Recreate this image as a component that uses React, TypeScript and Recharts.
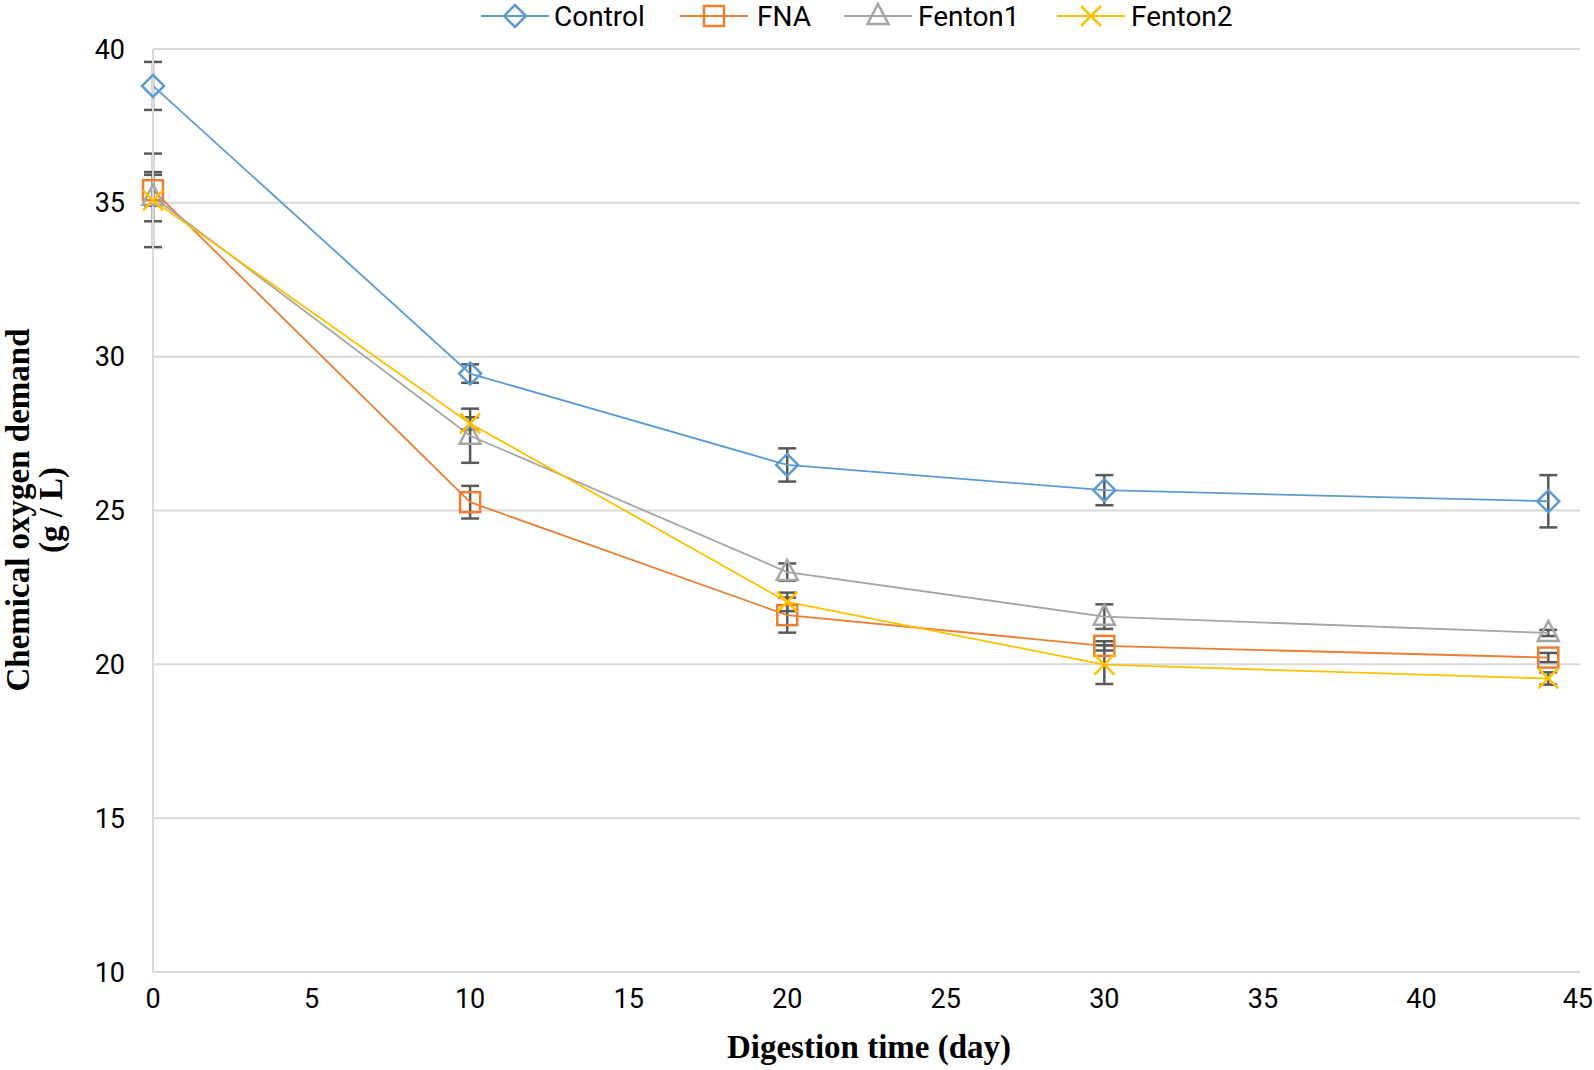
import React from "react";
import { LineChart, Line, XAxis, YAxis, CartesianGrid, ErrorBar } from "recharts";

const days = [0, 10, 20, 30, 44];
const seriesNames = ["Control", "FNA", "Fenton1", "Fenton2"];
const controlValues = [38.8, 29.45, 26.48, 25.66, 25.3];
const controlErrors = [0.78, 0.3, 0.54, 0.49, 0.85];
const fnaValues = [35.41, 25.27, 21.6, 20.6, 20.22];
const fnaErrors = [0.5, 0.53, 0.57, 0.15, 0.15];
const fenton1Values = [35.2, 27.43, 23.0, 21.55, 21.02];
const fenton1Errors = [0.8, 0.88, 0.28, 0.4, 0.1];
const fenton2Values = [35.08, 27.83, 22.03, 19.99, 19.54];
const fenton2Errors = [1.52, 0.2, 0.3, 0.63, 0.2];
const xTicks = [0, 5, 10, 15, 20, 25, 30, 35, 40, 45];
const yTicks = [10, 15, 20, 25, 30, 35, 40];

const colors = ["#5B9BD5", "#ED7D31", "#A5A5A5", "#FFC000"];

const build = (vals: number[], errs: number[]) =>
  days.map((d, i) => ({ day: d, value: vals[i], err: errs[i] }));

const series = [
  build(controlValues, controlErrors),
  build(fnaValues, fnaErrors),
  build(fenton1Values, fenton1Errors),
  build(fenton2Values, fenton2Errors),
];

const SW = 2.5;

function Marker({ kind, cx, cy, color }: { kind: number; cx: number; cy: number; color: string }) {
  if (kind === 0) {
    const r = 11;
    return (
      <polygon
        points={`${cx},${cy - r} ${cx + r},${cy} ${cx},${cy + r} ${cx - r},${cy}`}
        fill="none"
        stroke={color}
        strokeWidth={SW}
      />
    );
  }
  if (kind === 1) {
    const h = 10;
    return <rect x={cx - h} y={cy - h} width={2 * h} height={2 * h} fill="none" stroke={color} strokeWidth={SW} />;
  }
  if (kind === 2) {
    return (
      <polygon
        points={`${cx},${cy - 12} ${cx + 10.5},${cy + 8} ${cx - 10.5},${cy + 8}`}
        fill="none"
        stroke={color}
        strokeWidth={SW}
      />
    );
  }
  const r = 10;
  return (
    <g stroke={color} strokeWidth={SW}>
      <line x1={cx - r} y1={cy - r} x2={cx + r} y2={cy + r} />
      <line x1={cx - r} y1={cy + r} x2={cx + r} y2={cy - r} />
    </g>
  );
}

const legendPos = [
  { lx: 481, tx: 554 },
  { lx: 680, tx: 757 },
  { lx: 844, tx: 918 },
  { lx: 1057, tx: 1131 },
];

function XTick(props: any) {
  const { x, y, payload } = props;
  const last = payload.value === xTicks[xTicks.length - 1];
  return (
    <text
      x={last ? x + 13 : x}
      y={y}
      dy="0.71em"
      textAnchor={last ? "end" : "middle"}
      fontFamily="Roboto"
      fontSize={27}
      fill="#000"
    >
      {payload.value}
    </text>
  );
}

export default function App() {
  return (
    <div style={{ position: "absolute", left: 0, top: 0, width: 1594, height: 1070, background: "#fff" }}>
      <LineChart width={1594} height={1070} margin={{ top: 49, right: 14, bottom: 0, left: 0 }}>
        <CartesianGrid vertical={false} stroke="#d9d9d9" strokeWidth={2} />
        <XAxis
          dataKey="day"
          type="number"
          domain={[0, 45]}
          ticks={xTicks}
          interval={0}
          allowDuplicatedCategory={false}
          height={98}
          tickLine={false}
          tickSize={6}
          tickMargin={11}
          axisLine={{ stroke: "#d9d9d9", strokeWidth: 2 }}
          tick={<XTick />}
        />
        <YAxis
          type="number"
          domain={[10, 40]}
          ticks={yTicks}
          interval={0}
          width={153}
          tickLine={false}
          tickSize={6}
          tickMargin={22}
          axisLine={{ stroke: "#d9d9d9", strokeWidth: 2 }}
          tick={{ fontFamily: "Roboto", fontSize: 27, fill: "#000" }}
        />
        {series.map((data, i) => (
          <Line
            key={seriesNames[i]}
            name={seriesNames[i]}
            data={data}
            dataKey="value"
            stroke={colors[i]}
            strokeWidth={1.8}
            isAnimationActive={false}
            dot={(props: any) => (
              <Marker key={`${i}-${props.index}`} kind={i} cx={props.cx} cy={props.cy} color={colors[i]} />
            )}
            activeDot={false}
          >
            <ErrorBar dataKey="err" direction="y" width={9} stroke="#595959" strokeWidth={2.5} />
          </Line>
        ))}
      </LineChart>
      <svg
        width={1594}
        height={1070}
        style={{ position: "absolute", left: 0, top: 0, pointerEvents: "none" }}
      >
        {seriesNames.map((name, i) => {
          const p = legendPos[i];
          return (
            <g key={name}>
              <line x1={p.lx} y1={16} x2={p.lx + 68} y2={16} stroke={colors[i]} strokeWidth={2} />
              <Marker kind={i} cx={p.lx + 34} cy={16} color={colors[i]} />
              <text x={p.tx} y={26} fontFamily="Roboto" fontSize={28} fill="#000">
                {name}
              </text>
            </g>
          );
        })}
        <text
          x={869}
          y={1058}
          textAnchor="middle"
          fontFamily="Liberation Serif"
          fontWeight="bold"
          fontSize={33}
          fill="#000"
        >
          Digestion time (day)
        </text>
        <text
          transform="translate(29,510) rotate(-90)"
          textAnchor="middle"
          fontFamily="Liberation Serif"
          fontWeight="bold"
          fontSize={33}
          fill="#000"
        >
          Chemical oxygen demand
        </text>
        <text
          transform="translate(62,510) rotate(-90)"
          textAnchor="middle"
          fontFamily="Liberation Serif"
          fontWeight="bold"
          fontSize={33}
          fill="#000"
        >
          (g / L)
        </text>
      </svg>
    </div>
  );
}
